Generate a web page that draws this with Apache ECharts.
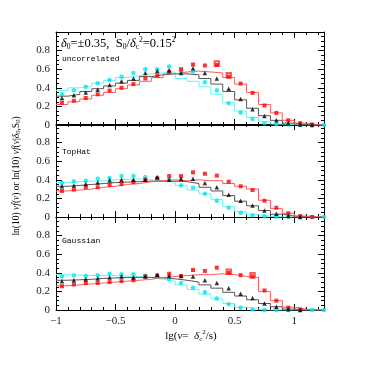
<!DOCTYPE html>
<html>
<head>
<meta charset="utf-8">
<script src="https://cdn.jsdelivr.net/npm/echarts@6/dist/echarts.min.js"></script>
<style>
  html, body { margin: 0; padding: 0; background: #fff; }
  #main { width: 366px; height: 366px; }
</style>
</head>
<body>
<div id="main"></div>
<script>
  // bin centres in lg(nu), width 0.1
  var binCenters = [-0.95, -0.85, -0.75, -0.65, -0.55, -0.45, -0.35, -0.25, -0.15, -0.05,
    0.05, 0.15, 0.25, 0.35, 0.45, 0.55, 0.65, 0.75, 0.85, 0.95, 1.05, 1.15, 1.25];
  var panelNames = ['uncorrelated', 'TopHat', 'Gaussian'];
  var xTickLabels = [-1, -0.5, 0, 0.5, 1];
  var yTickLabels = [0, 0.2, 0.4, 0.6, 0.8];

  // panel 1 : uncorrelated
  var cyanPts1 = [0.33, 0.375, 0.41, 0.45, 0.485, 0.52, 0.56, 0.60, 0.60, 0.63, 0.575, 0.575, 0.46, 0.375, 0.235, 0.135, 0.065, 0.02, 0.01, 0.005, 0, 0, 0];
  var blackPts1 = [0.29, 0.32, 0.35, 0.38, 0.43, 0.47, 0.50, 0.56, 0.58, 0.59, 0.56, 0.61, 0.56, 0.50, 0.39, 0.28, 0.17, 0.096, 0.05, 0.02, 0.005, 0, null];
  var redPts1 = [0.24, 0.26, 0.29, 0.33, 0.37, 0.40, 0.44, 0.50, 0.53, 0.57, 0.60, 0.65, 0.64, 0.645, 0.52, 0.445, 0.345, 0.21, 0.13, 0.05, 0.02, 0.005, null];
  var redOpen1 = [null, null, null, null, null, null, null, null, null, null, null, null, null, 0.66, 0.535, null, null, null, null, null, null, null, null];
  var cyanLine1 = [0.37, 0.40, 0.42, 0.45, 0.48, 0.51, 0.53, 0.55, 0.56, 0.57, 0.50, 0.47, 0.41, 0.33, 0.24, 0.15, 0.08, 0.035, 0.01, 0.003, 0, 0, 0];
  var blackLine1 = [0.31, 0.33, 0.36, 0.39, 0.42, 0.45, 0.48, 0.52, 0.54, 0.55, 0.55, 0.54, 0.50, 0.44, 0.36, 0.27, 0.18, 0.10, 0.05, 0.02, 0.005, 0, 0];
  var redLine1 = [0.22, 0.25, 0.28, 0.32, 0.35, 0.39, 0.43, 0.47, 0.51, 0.55, 0.57, 0.58, 0.57, 0.56, 0.51, 0.44, 0.35, 0.22, 0.13, 0.05, 0.02, 0.005, 0];

  // panel 2 : TopHat
  var cyanPts2 = [0.365, 0.385, 0.39, 0.41, 0.42, 0.44, 0.44, 0.43, 0.41, 0.40, 0.34, 0.315, 0.25, 0.175, 0.10, 0.047, 0.018, 0.007, 0.004, 0.003, 0, 0, 0];
  var blackPts2 = [0.33, 0.34, 0.355, 0.37, 0.395, 0.40, 0.40, 0.40, 0.43, 0.40, 0.41, 0.41, 0.365, 0.32, 0.24, 0.175, 0.125, 0.07, 0.035, 0.01, 0, null, null];
  var redPts2 = [0.28, 0.295, 0.32, 0.32, 0.345, 0.355, 0.375, 0.40, 0.415, 0.44, 0.44, 0.48, 0.465, 0.445, 0.38, 0.33, 0.29, 0.175, 0.10, 0.04, 0.01, 0, null];
  var cyanLine2 = [0.37, 0.38, 0.385, 0.39, 0.40, 0.405, 0.41, 0.40, 0.39, 0.38, 0.34, 0.29, 0.25, 0.19, 0.11, 0.057, 0.025, 0.008, 0, 0, 0, 0, 0];
  var blackLine2 = [0.33, 0.34, 0.35, 0.36, 0.37, 0.375, 0.38, 0.385, 0.385, 0.385, 0.38, 0.36, 0.32, 0.28, 0.23, 0.17, 0.12, 0.07, 0.03, 0.01, 0.003, 0, 0];
  var redLine2 = [0.28, 0.29, 0.30, 0.32, 0.33, 0.35, 0.36, 0.38, 0.39, 0.40, 0.39, 0.40, 0.39, 0.39, 0.36, 0.33, 0.30, 0.18, 0.09, 0.04, 0.01, 0.002, 0];

  // panel 3 : Gaussian
  var cyanPts3 = [0.36, 0.37, 0.365, 0.375, 0.39, 0.385, 0.385, 0.37, 0.36, 0.33, 0.29, 0.24, 0.19, 0.125, 0.063, 0.025, 0.005, 0, 0, 0, 0, 0, 0];
  var blackPts3 = [0.31, 0.32, 0.33, 0.34, 0.35, 0.36, 0.35, 0.36, 0.38, 0.365, 0.365, 0.36, 0.32, 0.29, 0.235, 0.175, 0.13, 0.07, 0.035, 0.007, 0, null, null];
  var redPts3 = [0.255, 0.275, 0.29, 0.29, 0.30, 0.31, 0.32, 0.36, 0.37, 0.39, 0.365, 0.43, 0.42, 0.455, 0.40, 0.375, 0.36, 0.21, 0.10, 0.025, 0.005, null, null];
  var redOpen3 = [null, null, null, null, null, null, null, null, null, null, null, null, null, null, 0.41, null, 0.375, null, null, null, null, null, null];
  var cyanLine3 = [0.38, 0.375, 0.37, 0.37, 0.37, 0.365, 0.36, 0.35, 0.33, 0.31, 0.27, 0.22, 0.17, 0.12, 0.07, 0.03, 0.01, 0, 0, 0, 0, 0, 0];
  var blackLine3 = [0.32, 0.325, 0.33, 0.34, 0.345, 0.35, 0.35, 0.35, 0.345, 0.335, 0.32, 0.30, 0.27, 0.235, 0.19, 0.15, 0.11, 0.07, 0.035, 0.01, 0, 0, 0];
  var redLine3 = [0.26, 0.27, 0.28, 0.29, 0.30, 0.31, 0.32, 0.33, 0.35, 0.36, 0.37, 0.38, 0.38, 0.39, 0.38, 0.36, 0.35, 0.20, 0.10, 0.03, 0.01, 0, 0];

  var panels = [
    {cyan: cyanPts1, black: blackPts1, red: redPts1, redOpen: redOpen1, cl: cyanLine1, bl: blackLine1, rl: redLine1},
    {cyan: cyanPts2, black: blackPts2, red: redPts2, redOpen: null, cl: cyanLine2, bl: blackLine2, rl: redLine2},
    {cyan: cyanPts3, black: blackPts3, red: redPts3, redOpen: redOpen3, cl: cyanLine3, bl: blackLine3, rl: redLine3}
  ];

  var serif = '"Liberation Serif", "DejaVu Serif", serif';
  var mono = '"Liberation Mono", monospace';
  var gridTops = [32, 124, 217];

  function pts(vals) {
    var out = [];
    for (var i = 0; i < vals.length; i++) {
      if (vals[i] !== null) out.push([binCenters[i], vals[i]]);
    }
    return out;
  }
  // histogram: value of bin i held over [centre-0.05, centre+0.05]
  function steps(vals) {
    var out = [];
    for (var i = 0; i < vals.length; i++) out.push([binCenters[i] - 0.05, vals[i]]);
    out.push([binCenters[vals.length - 1] + 0.05, vals[vals.length - 1]]);
    return out;
  }
  function isLabelX(v) {
    return xTickLabels.some(function (t) { return Math.abs(t - v) < 1e-6; });
  }
  function isLabelY(v) {
    return yTickLabels.some(function (t) { return Math.abs(t - v) < 1e-6; });
  }

  var grids = [], xAxes = [], yAxes = [], series = [];
  var tickStyle = {color: '#000', width: 1};

  gridTops.forEach(function (top, g) {
    grids.push({left: 56, top: top, width: 268, height: 93});
    var last = g === 2;
    // minor ticks every 0.1, bottom + top
    ['bottom', 'top'].forEach(function (pos) {
      xAxes.push({
        type: 'value', gridIndex: g, position: pos, min: -1, max: 1.25, interval: 0.1,
        axisLine: {show: true, onZero: false, lineStyle: {color: '#000', width: 1}},
        axisTick: {show: true, inside: true, length: 3, lineStyle: tickStyle},
        axisLabel: {
          show: last && pos === 'bottom', fontFamily: serif, fontSize: 11, color: '#222', margin: 6,
          formatter: function (v) {
            if (!isLabelX(v)) return '';
            var r = Math.round(v * 10) / 10;
            return r < 0 ? '\u2212' + String(-r) : String(r);
          }
        },
        splitLine: {show: false}
      });
    });
    // major ticks every 0.5
    ['bottom', 'top'].forEach(function (pos) {
      xAxes.push({
        type: 'value', gridIndex: g, position: pos, min: -1, max: 1.25, interval: 0.5,
        axisLine: {show: false, onZero: false},
        axisTick: {show: true, inside: true, length: 6, lineStyle: tickStyle},
        axisLabel: {show: false},
        splitLine: {show: false}
      });
    });
    ['left', 'right'].forEach(function (pos) {
      yAxes.push({
        type: 'value', gridIndex: g, position: pos, min: 0, max: 1, interval: 0.2,
        axisLine: {show: true, onZero: false, lineStyle: {color: '#000', width: 1}},
        axisTick: {show: true, inside: true, length: 6, lineStyle: tickStyle},
        minorTick: {show: true, splitNumber: 4, length: 3, lineStyle: tickStyle},
        axisLabel: {
          show: pos === 'left', fontFamily: serif, fontSize: 11, color: '#222', margin: 6,
          formatter: function (v) { return isLabelY(v) ? String(Math.round(v * 10) / 10) : ''; }
        },
        splitLine: {show: false}
      });
    });

    var p = panels[g];
    var xi = g * 4, yi = g * 2;
    function line(vals, color, z) {
      series.push({
        type: 'line', xAxisIndex: xi, yAxisIndex: yi, data: steps(vals), step: 'end',
        symbol: 'none', lineStyle: {color: color, width: 1}, z: z, silent: true, clip: true
      });
    }
    function scatter(vals, symbol, size, color, z, extra) {
      var s = {
        type: 'scatter', xAxisIndex: xi, yAxisIndex: yi, data: pts(vals),
        symbol: symbol, symbolSize: size, itemStyle: {color: color}, z: z, clip: false
      };
      if (extra) Object.assign(s, extra);
      series.push(s);
    }
    line(p.cl, '#66f4f4', 2);
    line(p.bl, '#555555', 2);
    line(p.rl, '#ff5a5a', 2);
    scatter(p.cyan, 'circle', 4.5, '#00e5ee', 3);
    if (p.redOpen) {
      scatter(p.redOpen, 'emptyRect', 4.5, '#ff3030', 4, {itemStyle: {color: '#ff3030', borderWidth: 1}});
    }
    scatter(p.red, 'rect', 4, '#ff0000', 4);
    scatter(p.black, 'triangle', 4.5, '#000', 5);
  });

  var myEchart = echarts.init(document.getElementById('main'), null, {renderer: 'canvas'});
  myEchart.setOption({
    animation: false,
    backgroundColor: '#fff',
    grid: grids,
    xAxis: xAxes,
    yAxis: yAxes,
    series: series,
    graphic: [
      {
        type: 'text', left: 61, top: 36,
        style: {
          text: '{i|δ}{s|0}{n|=±0.35,  S}{s|0}{n|/}{i|δ}{s|c}{u|2}{n|=0.15}{u|2}',
          rich: {
            n: {fontFamily: serif, fontSize: 12.5, color: '#000', lineHeight: 15},
            i: {fontFamily: serif, fontSize: 12.5, fontStyle: 'italic', color: '#000', lineHeight: 15},
            s: {fontFamily: serif, fontSize: 7.5, color: '#000', verticalAlign: 'bottom', lineHeight: 15},
            u: {fontFamily: serif, fontSize: 7.5, color: '#000', verticalAlign: 'top', lineHeight: 15}
          }
        }
      },
      {type: 'text', left: 62, top: 55, style: {text: panelNames[0], fontFamily: mono, fontSize: 8, fill: '#000'}},
      {type: 'text', left: 62, top: 148, style: {text: panelNames[1], fontFamily: mono, fontSize: 8, fill: '#000'}},
      {type: 'text', left: 62, top: 237, style: {text: panelNames[2], fontFamily: mono, fontSize: 8, fill: '#000'}},
      {
        type: 'text', x: 16, y: 176, rotation: Math.PI / 2,
        style: {
          text: 'ln(10) {i|ν}{i|f}({i|ν}) or ln(10) {i|ν}{i|f}({i|ν}|{i|δ}{s|0},S{s|0})',
          fontFamily: serif, fontSize: 9.5, fill: '#000', align: 'center', verticalAlign: 'middle',
          rich: {
            i: {fontFamily: serif, fontSize: 9.5, fontStyle: 'italic', lineHeight: 12},
            s: {fontFamily: serif, fontSize: 6.5, verticalAlign: 'bottom', lineHeight: 12}
          }
        }
      },
      {
        type: 'text', x: 191, y: 336,
        style: {
          text: 'lg({i|ν}=  {i|δ}{s|c}{u|2}/s)',
          fontFamily: serif, fontSize: 11, fill: '#000', align: 'center', verticalAlign: 'middle',
          rich: {
            i: {fontFamily: serif, fontSize: 11, fontStyle: 'italic', lineHeight: 14},
            s: {fontFamily: serif, fontSize: 7, verticalAlign: 'bottom', lineHeight: 14},
            u: {fontFamily: serif, fontSize: 7, verticalAlign: 'top', lineHeight: 14}
          }
        }
      }
    ]
  });
</script>
</body>
</html>
